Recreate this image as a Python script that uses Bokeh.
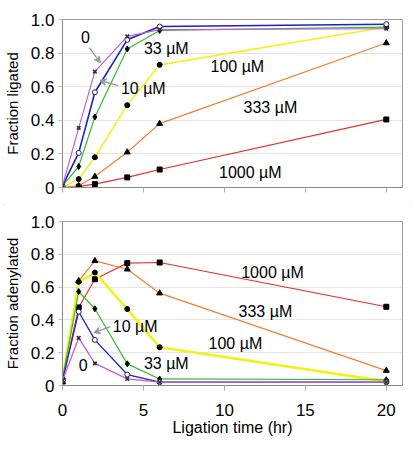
from bokeh.plotting import figure
from bokeh.layouts import column
from bokeh.models import (Range1d, FixedTicker, NumeralTickFormatter, Arrow, VeeHead,
                          ColumnDataSource, CustomJSTickFormatter)
from bokeh.core.properties import value
from bokeh.embed import file_html
from bokeh.resources import INLINE

# ---------------- data ----------------
time_hr = [0, 1, 2, 4, 6, 20]
series_names = ["1000 µM", "333 µM", "100 µM", "33 µM", "10 µM", "0"]

lig_1000 = [0.00, 0.005, 0.02, 0.06, 0.107, 0.405]
lig_333 = [0.00, 0.01, 0.065, 0.21, 0.38, 0.86]
lig_100 = [0.00, 0.05, 0.18, 0.49, 0.73, 0.955]
lig_33 = [0.01, 0.125, 0.42, 0.825, 0.935, 0.955]
lig_10 = [0.01, 0.206, 0.567, 0.879, 0.958, 0.972]
lig_0 = [0.01, 0.355, 0.69, 0.90, 0.94, 0.945]

ade_1000 = [0.03, 0.476, 0.648, 0.746, 0.75, 0.48]
ade_333 = [0.02, 0.638, 0.76, 0.709, 0.563, 0.091]
ade_100 = [0.04, 0.632, 0.689, 0.466, 0.233, 0.025]
ade_33 = [0.04, 0.573, 0.468, 0.132, 0.04, 0.035]
ade_10 = [0.03, 0.45, 0.278, 0.067, 0.02, 0.02]
ade_0 = [0.03, 0.29, 0.135, 0.04, 0.02, 0.02]

y_ticks = [0, 0.2, 0.4, 0.6, 0.8, 1.0]
x_ticks = [0, 5, 10, 15, 20]

# annotation labels (data coordinates)
top_labels = ["0", "33 µM", "10 µM", "100 µM", "333 µM", "1000 µM"]
top_label_x = [1.41, 6.41, 4.99, 10.8, 12.84, 11.6]
top_label_y = [0.893, 0.827, 0.589, 0.72, 0.476, 0.089]
top_arrows = [((1.65, 0.833), (2.33, 0.744)), ((3.44, 0.607), (2.33, 0.637))]

bot_labels = ["10 µM", "0", "33 µM", "1000 µM", "333 µM", "100 µM"]
bot_label_x = [4.49, 1.28, 6.41, 12.97, 12.53, 10.68]
bot_label_y = [0.359, 0.122, 0.134, 0.687, 0.45, 0.255]
bot_arrows = [((2.96, 0.359), (1.96, 0.322))]

# ---------------- styles ----------------
FONT = "Liberation Sans"
colors = ["#E03030", "#F08030", "#F4F020", "#33BB33", "#2020C0", "#C060D0"]
markers = ["square", "triangle", "circle", "diamond", "circle", "x"]
msizes = [5, 6, 5, 6, 5, 5]
mfill = ["black", "black", "black", "black", "white", "black"]
mline = ["black", "black", "black", "black", "#202060", "#303030"]


def make_fig(height, border_top, border_bottom, ylabel, show_x_labels):
    p = figure(width=414, height=height, output_backend="svg", toolbar_location=None,
               x_range=Range1d(0, 21.0), y_range=Range1d(0, 1.0),
               min_border_left=62, min_border_right=12,
               min_border_top=border_top, min_border_bottom=border_bottom,
               background_fill_color="white", border_fill_color="white")
    p.outline_line_color = "#9a9a9a"
    p.xgrid.visible = False
    p.ygrid.ticker = FixedTicker(ticks=y_ticks)
    p.ygrid.grid_line_color = "#e4e4e4"
    p.ygrid.grid_line_width = 1

    p.yaxis.ticker = FixedTicker(ticks=y_ticks)
    p.yaxis.formatter = NumeralTickFormatter(format="0.0")
    p.yaxis.major_label_overrides = {0: "0"}
    p.yaxis.major_label_text_font = FONT
    p.yaxis.major_label_text_font_size = "17px"
    p.yaxis.major_label_text_color = "black"
    p.yaxis.major_label_standoff = 4
    p.yaxis.axis_label = ylabel
    p.yaxis.axis_label_text_font = FONT
    p.yaxis.axis_label_text_font_size = "15px"
    p.yaxis.axis_label_text_font_style = "normal"
    p.yaxis.axis_label_text_color = "black"
    p.yaxis.axis_label_standoff = 7
    p.yaxis.axis_line_color = "#8a8a8a"
    p.yaxis.major_tick_line_color = "#bbbbbb"
    p.yaxis.major_tick_out = 4
    p.yaxis.major_tick_in = 0
    p.yaxis.minor_tick_line_color = None

    p.xaxis.ticker = FixedTicker(ticks=x_ticks)
    p.xaxis.axis_line_color = "#8a8a8a"
    p.xaxis.major_tick_line_color = "#aaaaaa"
    p.xaxis.major_tick_out = 5
    p.xaxis.major_tick_in = 0
    p.xaxis.minor_tick_line_color = None
    p.xaxis.major_label_text_font = FONT
    p.xaxis.major_label_text_font_size = "17px"
    p.xaxis.major_label_text_color = "black"
    if show_x_labels:
        p.xaxis.major_label_standoff = 13
        p.xaxis.axis_label = "Ligation time (hr)"
        p.xaxis.axis_label_text_font = FONT
        p.xaxis.axis_label_text_font_size = "16px"
        p.xaxis.axis_label_text_font_style = "normal"
        p.xaxis.axis_label_text_color = "black"
        p.xaxis.axis_label_standoff = 0
    else:
        p.xaxis.formatter = CustomJSTickFormatter(code="return ''")
        p.xaxis.major_label_standoff = 0
    return p


def add_series(p, ys, widths):
    for y, c, w, m, ms, mf, ml in zip(ys, colors, widths, markers, msizes, mfill, mline):
        src = ColumnDataSource(dict(x=time_hr, y=y))
        p.line("x", "y", source=src, line_color=c, line_width=w)
        if m == "x":
            p.scatter("x", "y", source=src, marker="x", size=ms, line_color=ml, line_width=1.6)
        else:
            p.scatter("x", "y", source=src, marker=m, size=ms, fill_color=mf,
                      line_color=ml, line_width=1)


def add_labels(p, labels, lx, ly, arrows):
    p.text(x=lx, y=ly, text=labels, text_font=value(FONT), text_font_size="16px",
           text_align="center", text_baseline="middle", text_color="black")
    for (x0, y0), (x1, y1) in arrows:
        p.add_layout(Arrow(x_start=x0, y_start=y0, x_end=x1, y_end=y1,
                           line_color="#999999", line_width=1.3,
                           end=VeeHead(size=6, line_color="#999999", line_width=1.3,
                                       fill_color="#999999")))


top = make_fig(204, 19, 17, "Fraction ligated", False)
add_series(top, [lig_1000, lig_333, lig_100, lig_33, lig_10, lig_0],
           [1.2, 1.2, 1.6, 1.2, 1.6, 1.2])
add_labels(top, top_labels, top_label_x, top_label_y, top_arrows)

bot = make_fig(255, 17, 74, "Fraction adenylated", True)
add_series(bot, [ade_1000, ade_333, ade_100, ade_33, ade_10, ade_0],
           [1.2, 1.2, 2.6, 1.2, 1.3, 1.3])
add_labels(bot, bot_labels, bot_label_x, bot_label_y, bot_arrows)

layout = column(top, bot, spacing=0,
                styles={"outline": "1px solid #c4c4c4", "outline-offset": "-4px"})

open("out.html", "w").write(file_html(layout, INLINE))
